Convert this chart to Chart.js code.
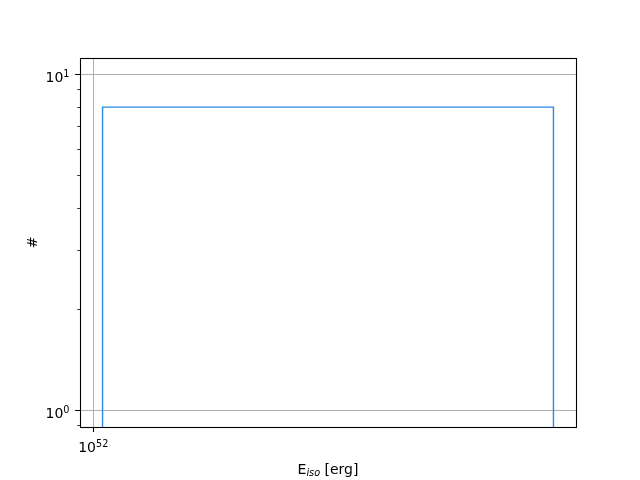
<!DOCTYPE html>
<html>
<head>
<meta charset="utf-8">
<script src="https://cdn.jsdelivr.net/npm/chart.js@4"></script>
<style>
  html, body { margin: 0; padding: 0; background: #fff; }
  #c { display: block; }
</style>
</head>
<body>
<canvas id="c" width="640" height="480"></canvas>
<script>
// ---- data ----
const binEdges = [1.0095e52, 1.6e52];
const counts = [8];
const histBaseline = 0.1;
const xTickValues = [1e52];
const xTickBase = ['10'];
const xTickExp = ['52'];
const yTickValues = [1, 10];
const yTickBase = ['10', '10'];
const yTickExp = ['0', '1'];
const yMin = 0.893, yMax = 11.2;
const yLabel = '#';
const xLabelMain = 'E', xLabelSub = 'iso', xLabelRest = ' [erg]';

// step outline built from edges and counts
const stepPoints = [];
stepPoints.push({x: binEdges[0], y: histBaseline});
for (let i = 0; i < counts.length; i++) {
  stepPoints.push({x: binEdges[i], y: counts[i]});
  stepPoints.push({x: binEdges[i + 1], y: counts[i]});
}
stepPoints.push({x: binEdges[binEdges.length - 1], y: histBaseline});

const lo = Math.log10(binEdges[0]), hi = Math.log10(binEdges[binEdges.length - 1]);
const pad = 0.05 * (hi - lo);
const xMin = Math.pow(10, lo - pad), xMax = Math.pow(10, hi + pad);

// minor tick values for y (2..9 per decade)
const yMinor = [];
for (let k = Math.floor(Math.log10(yMin)); k <= Math.ceil(Math.log10(yMax)); k++) {
  for (let d = 2; d <= 9; d++) {
    const v = d * Math.pow(10, k);
    if (v >= yMin && v <= yMax) yMinor.push(v);
  }
}

const FONT = 'DejaVu Sans';
const F_MAIN = '14px "' + FONT + '"';
const F_SUP = '9.7px "' + FONT + '"';
const F_SUB = 'italic 9.7px "' + FONT + '"';

function drawPow(ctx, base, exp, x, baseline, align) {
  ctx.font = F_MAIN; const wb = ctx.measureText(base).width;
  ctx.font = F_SUP; const we = ctx.measureText(exp).width;
  const total = wb + we;
  let sx = align === 'right' ? x - total : x - total / 2;
  ctx.textAlign = 'left';
  ctx.textBaseline = 'alphabetic';
  ctx.font = F_MAIN; ctx.fillText(base, sx, baseline);
  ctx.font = F_SUP; ctx.fillText(exp, sx + wb, baseline - 5);
}

const decor = {
  id: 'decor',
  afterDraw(chart) {
    const ctx = chart.ctx, a = chart.chartArea;
    const xs = chart.scales.x, ys = chart.scales.y;
    ctx.save();
    ctx.strokeStyle = '#000';
    ctx.fillStyle = '#000';
    // major ticks
    ctx.lineWidth = 1.1;
    ctx.beginPath();
    yTickValues.forEach(v => {
      const p = Math.round(ys.getPixelForValue(v) - 0.5) + 0.5;
      ctx.moveTo(a.left, p); ctx.lineTo(a.left - 4.9, p);
    });
    xTickValues.forEach(v => {
      const p = Math.round(xs.getPixelForValue(v) - 0.5) + 0.5;
      ctx.moveTo(p, a.bottom); ctx.lineTo(p, a.bottom + 4.9);
    });
    ctx.stroke();
    // minor ticks
    ctx.lineWidth = 0.8;
    ctx.beginPath();
    yMinor.forEach(v => {
      const p = Math.round(ys.getPixelForValue(v) - 0.5) + 0.5;
      ctx.moveTo(a.left, p); ctx.lineTo(a.left - 2.8, p);
    });
    ctx.stroke();
    // frame
    ctx.lineWidth = 1.1;
    ctx.strokeRect(Math.round(a.left) + 0.5, Math.round(a.top) + 0.5,
                   Math.round(a.right - a.left), Math.round(a.bottom - a.top));
    // tick labels
    yTickValues.forEach((v, i) => {
      drawPow(ctx, yTickBase[i], yTickExp[i], a.left - 10.5, ys.getPixelForValue(v) + 7.7, 'right');
    });
    xTickValues.forEach((v, i) => {
      drawPow(ctx, xTickBase[i], xTickExp[i], xs.getPixelForValue(v), a.bottom + 24.7, 'center');
    });
    // x label with italic subscript
    ctx.textBaseline = 'alphabetic';
    ctx.font = F_MAIN; const w1 = ctx.measureText(xLabelMain).width;
    const w3 = ctx.measureText(xLabelRest).width;
    ctx.font = F_SUB; const w2 = ctx.measureText(xLabelSub).width;
    const total = w1 + w2 + w3;
    let x = (a.left + a.right) / 2 - total / 2;
    const base = a.bottom + 46.5;
    ctx.textAlign = 'left';
    ctx.font = F_MAIN; ctx.fillText(xLabelMain, x, base); x += w1;
    ctx.font = F_SUB; ctx.fillText(xLabelSub, x, base + 2.5); x += w2;
    ctx.font = F_MAIN; ctx.fillText(xLabelRest, x, base);
    ctx.restore();
  }
};

new Chart(document.getElementById('c'), {
  type: 'line',
  data: {
    datasets: [{
      data: stepPoints,
      borderColor: '#2b8ae8',
      borderWidth: 1.4,
      pointRadius: 0,
      fill: false,
      tension: 0
    }]
  },
  options: {
    responsive: false,
    animation: false,
    devicePixelRatio: 1,
    layout: { padding: { left: 0, top: 58, right: 64, bottom: 0 } },
    plugins: { legend: { display: false }, tooltip: { enabled: false } },
    scales: {
      x: {
        type: 'logarithmic',
        min: xMin, max: xMax,
        afterFit(s) { s.height = 53; },
        afterBuildTicks(s) { s.ticks = xTickValues.map(v => ({value: v, major: true})); },
        border: { display: false },
        grid: { color: '#b0b0b0', lineWidth: 1, drawTicks: false },
        ticks: { display: false, autoSkip: false }
      },
      y: {
        type: 'logarithmic',
        min: yMin, max: yMax,
        afterFit(s) { s.width = 80; },
        afterBuildTicks(s) { s.ticks = yTickValues.map(v => ({value: v, major: true})); },
        border: { display: false },
        grid: { color: '#b0b0b0', lineWidth: 1, drawTicks: false },
        title: { display: true, text: yLabel, color: '#000', font: { family: FONT, size: 14 }, padding: { top: 25, bottom: 0 } },
        ticks: { display: false, autoSkip: false }
      }
    }
  },
  plugins: [decor]
});
</script>
</body>
</html>
